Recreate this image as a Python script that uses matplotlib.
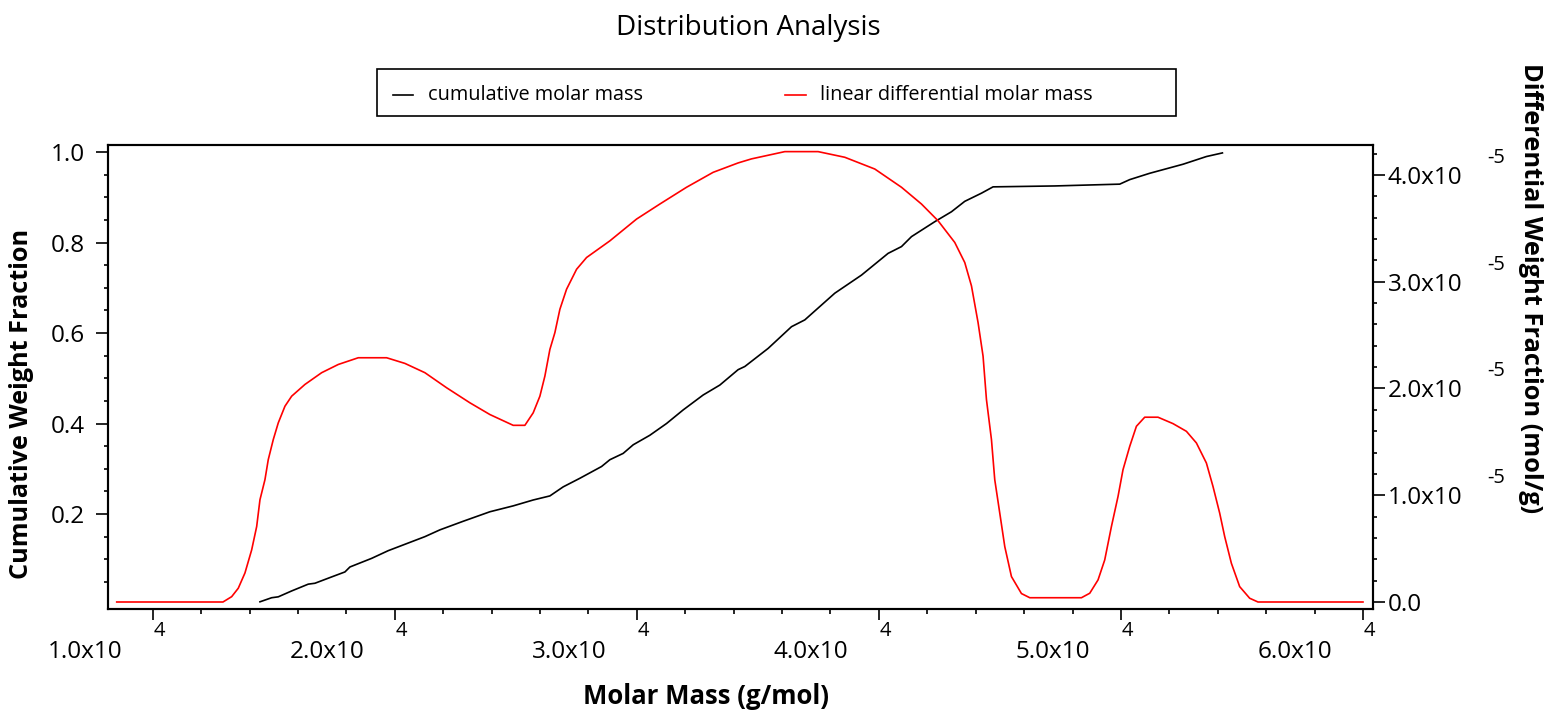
import matplotlib
matplotlib.use('Agg')
import matplotlib.pyplot as plt
import numpy as np
from matplotlib.ticker import FixedLocator
from matplotlib.lines import Line2D
from matplotlib.patches import Rectangle
from matplotlib.transforms import ScaledTranslation

plt.rcParams['font.family'] = ['Open Sans', 'DejaVu Sans']

# cumulative weight fraction vs molar mass (black)
cum_mass = [14432, 14914, 15188, 15741, 16426, 16703, 17393, 17942, 18149, 19045,
            19730, 21246, 21866, 22828, 23931, 24893, 25719, 26409, 26958, 27648,
            28544, 28887, 29437, 29851, 30537, 31228, 31914, 32740, 33430, 34185,
            34462, 35425, 36391, 36940, 38179, 39282, 40380, 40934, 41347, 42309,
            42999, 43548, 44237, 44717, 47265, 49950, 50363, 51189, 52565, 53530,
            54192]
cum_frac = [0.006, 0.015, 0.017, 0.030, 0.045, 0.047, 0.061, 0.072, 0.083, 0.102,
            0.119, 0.150, 0.165, 0.184, 0.205, 0.218, 0.231, 0.240, 0.260, 0.279,
            0.305, 0.320, 0.334, 0.353, 0.374, 0.400, 0.430, 0.463, 0.485, 0.519,
            0.526, 0.566, 0.614, 0.629, 0.688, 0.728, 0.776, 0.791, 0.813, 0.846,
            0.868, 0.891, 0.909, 0.923, 0.925, 0.929, 0.939, 0.953, 0.973, 0.990,
            0.998]

# linear differential weight fraction (red), in units of 1e-5 mol/g
diff_mass = [8514, 12904, 13263, 13536, 13812, 14089, 14296, 14432, 14638, 14774,
             14981, 15188, 15464, 15741, 16290, 16980, 17666, 18492, 19664, 20420,
             21246, 22142, 23105, 23931, 24893, 25376, 25719, 25996, 26202, 26409,
             26615, 26822, 27098, 27512, 27924, 28887, 29989, 30952, 32054, 33153,
             34185, 34739, 36114, 37489, 38592, 39831, 40934, 41760, 42446, 43135,
             43548, 43825, 44098, 44304, 44444, 44651, 44787, 44994, 45201, 45477,
             45890, 46234, 48368, 48711, 49054, 49330, 49607, 49880, 50085, 50363,
             50639, 50982, 51531, 52150, 52704, 53117, 53530, 53802, 54079, 54286,
             54562, 54905, 55319, 55662, 59999]
diff_frac = [0.0, 0.0, 0.05, 0.129, 0.272, 0.488, 0.707, 0.958, 1.146, 1.333,
             1.521, 1.678, 1.834, 1.928, 2.038, 2.148, 2.225, 2.288, 2.288, 2.235,
             2.148, 2.007, 1.866, 1.756, 1.655, 1.655, 1.772, 1.928, 2.116, 2.366,
             2.523, 2.742, 2.930, 3.117, 3.227, 3.383, 3.587, 3.728, 3.885, 4.025,
             4.113, 4.151, 4.219, 4.219, 4.166, 4.056, 3.885, 3.728, 3.571, 3.368,
             3.180, 2.961, 2.617, 2.303, 1.897, 1.521, 1.146, 0.833, 0.519, 0.238,
             0.079, 0.04, 0.04, 0.082, 0.207, 0.394, 0.707, 0.989, 1.239, 1.458,
             1.646, 1.731, 1.731, 1.671, 1.599, 1.490, 1.302, 1.083, 0.833, 0.613,
             0.363, 0.144, 0.035, 0.0, 0.0]

x_ticks = [10000, 20000, 30000, 40000, 50000, 60000]
x_labels = ['1.0x10', '2.0x10', '3.0x10', '4.0x10', '5.0x10', '6.0x10']
left_ticks = [0.2, 0.4, 0.6, 0.8, 1.0]
right_ticks = [0.0, 1e-5, 2e-5, 3e-5, 4e-5]
right_labels = ['0.0', '1.0x10', '2.0x10', '3.0x10', '4.0x10']

W, H = 1546, 713
fig = plt.figure(figsize=(W / 100, H / 100), dpi=100)
ax = fig.add_axes([108 / W, 1 - 609 / H, (1373 - 108) / W, (609 - 145) / H])
ax2 = ax.twinx()

ax.plot(cum_mass, cum_frac, color='black', lw=1.2)
ax2.plot(diff_mass, np.array(diff_frac) * 1e-5, color='red', lw=1.2)

ax.set_xlim(8154, 60413)
ax.set_ylim(-0.0099, 1.0155)
ax2.set_ylim(-0.0656e-5, 4.281e-5)

for s in ax2.spines.values():
    s.set_linewidth(1.5)
for s in ax.spines.values():
    s.set_linewidth(1.5)

tick_font = 17.5
ax.set_xticks(x_ticks)
ax.set_xticklabels(x_labels, fontsize=tick_font)
ax.xaxis.set_minor_locator(FixedLocator(np.arange(10000, 60001, 2000)))
ax.set_yticks(left_ticks)
ax.set_yticklabels(['%.1f' % v for v in left_ticks], fontsize=tick_font)
ax.yaxis.set_minor_locator(FixedLocator(np.arange(0.05, 1.0, 0.05)))
ax2.set_yticks(right_ticks)
ax2.set_yticklabels(right_labels, fontsize=tick_font)
ax2.yaxis.set_minor_locator(FixedLocator(np.arange(0.2e-5, 4.25e-5, 0.2e-5)))

ax.tick_params(axis='x', which='major', direction='out', length=8, width=1.2, pad=14)
ax.tick_params(axis='x', which='minor', direction='out', length=3.5, width=1.2)
ax.tick_params(axis='y', which='major', direction='out', length=8.5, width=1.2, pad=8)
ax.tick_params(axis='y', which='minor', direction='out', length=3.2, width=1.2)
ax2.tick_params(axis='y', which='major', direction='out', length=8.5, width=1.2, pad=2)
ax2.tick_params(axis='y', which='minor', direction='out', length=3.2, width=1.2)

# x tick labels sit left of their tick, exponent just below the tick
shift = ScaledTranslation(-68 / 100, 0, fig.dpi_scale_trans)
for lab in ax.get_xticklabels():
    lab.set_transform(lab.get_transform() + shift)
for xt in x_ticks:
    ax.annotate('4', xy=(xt, 0), xycoords=('data', 'axes fraction'),
                xytext=(1, -12), textcoords='offset pixels',
                ha='left', va='top', fontsize=14.5)
for yt in right_ticks[1:]:
    ax2.annotate('-5', xy=(1, yt), xycoords=('axes fraction', 'data'),
                 xytext=(114, 17), textcoords='offset pixels',
                 ha='left', va='center', fontsize=14.5)

fig.text(748 / W, 1 - 28 / H, 'Distribution Analysis', ha='center', va='center', fontsize=20)
fig.text(706 / W, 1 - 697 / H, 'Molar Mass (g/mol)', ha='center', va='center',
         fontsize=18.5, fontweight='bold')
fig.text(22 / W, 1 - 404 / H, 'Cumulative Weight Fraction', ha='center', va='center',
         rotation=90, fontsize=18.2, fontweight='bold')
fig.text(1530 / W, 1 - 288 / H, 'Differential Weight Fraction (mol/g)', ha='center',
         va='center', rotation=270, fontsize=18.3, fontweight='bold')

# legend box
fig.add_artist(Rectangle((377 / W, 1 - 116 / H), 799 / W, 47 / H, transform=fig.transFigure,
                         fill=False, edgecolor='black', lw=1.2))
ly = 1 - 95 / H
fig.add_artist(Line2D([393 / W, 413 / W], [ly, ly], transform=fig.transFigure, color='black', lw=1.2))
fig.add_artist(Line2D([785 / W, 806 / W], [ly, ly], transform=fig.transFigure, color='red', lw=1.2))
fig.text(428 / W, ly, 'cumulative molar mass', ha='left', va='center', fontsize=14.3)
fig.text(820 / W, ly, 'linear differential molar mass', ha='left', va='center', fontsize=14.3)

fig.savefig('out.png', dpi=100)
